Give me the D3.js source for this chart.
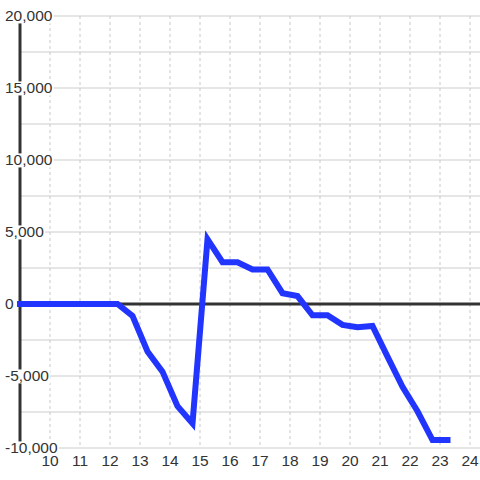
<!DOCTYPE html>
<html>
<head>
<meta charset="utf-8">
<script src="https://cdn.jsdelivr.net/npm/d3@7"></script>
<style>
  body { margin: 0; background: #fff; }
  text { font-family: "Liberation Sans", Arial, sans-serif; font-size: 15.5px; fill: #333; }
</style>
</head>
<body>
<script>
var xValues = [9, 9.25, 9.75, 10.25, 10.75, 11.25, 11.75, 12.25, 12.75, 13.25, 13.75, 14.25, 14.75,
    15.25, 15.75, 16.25, 16.75, 17.25, 17.75, 18.25, 18.75, 19.25, 19.75, 20.25, 20.75,
    21.25, 21.75, 22.25, 22.75, 23.25];
var yValues = [0, 0, 0, 0, 0, 0, 0, 0, -830, -3300, -4700, -7100, -8300,
    4500, 2900, 2900, 2400, 2400, 750, 550, -780, -780, -1450, -1620, -1530,
    -3650, -5750, -7450, -9450, -9450];
var xTicks = [10, 11, 12, 13, 14, 15, 16, 17, 18, 19, 20, 21, 22, 23, 24];
var yTicks = [-10000, -5000, 0, 5000, 10000, 15000, 20000];
var yGrid = [-10000, -7500, -5000, -2500, 0, 2500, 5000, 7500, 10000, 12500, 15000, 17500, 20000];

var svgWidth = 480;
var svgHeight = 480;

var svg = d3.select("body")
    .append("svg")
    .attr("width", svgWidth)
    .attr("height", svgHeight);

var x = d3.scaleLinear().domain([9, 24]).range([20, 470]);
var y = d3.scaleLinear().domain([-10000, 20000]).range([448, 16]);

// horizontal grid
svg.selectAll(".hgrid")
    .data(yGrid)
    .enter().append("line")
    .attr("x1", 20).attr("x2", 480)
    .attr("y1", d => y(d)).attr("y2", d => y(d))
    .attr("stroke", "#ccc").attr("stroke-width", 1);

// vertical dashed grid
svg.selectAll(".vgrid")
    .data(xTicks)
    .enter().append("line")
    .attr("x1", d => x(d)).attr("x2", d => x(d))
    .attr("y1", y(20000)).attr("y2", y(-10000))
    .attr("stroke", "#c8c8c8").attr("stroke-width", 1)
    .attr("stroke-dasharray", "3,3");

// y axis line
svg.append("line")
    .attr("x1", x(9)).attr("x2", x(9))
    .attr("y1", y(20000)).attr("y2", y(-10000))
    .attr("stroke", "#333").attr("stroke-width", 3);

// y labels, left aligned, with a background box over the axis
var fmt = d3.format(",");
var yLab = svg.selectAll(".ylab")
    .data(yTicks)
    .enter().append("g")
    .attr("transform", d => "translate(5," + y(d) + ")");

yLab.append("text")
    .attr("dy", "0.35em")
    .text(d => fmt(d).replace("−", "-"));

yLab.each(function() {
    var g = d3.select(this);
    var bb = g.select("text").node().getBBox();
    g.insert("rect", "text")
        .attr("x", bb.x).attr("y", bb.y + 2)
        .attr("width", bb.width + 1).attr("height", bb.height - 3)
        .attr("fill", "#fff");
});

// zero line
svg.append("line")
    .attr("x1", x(9)).attr("x2", 480)
    .attr("y1", y(0)).attr("y2", y(0))
    .attr("stroke", "#333").attr("stroke-width", 3);

// data line
var line = d3.line()
    .x((d, i) => x(xValues[i]))
    .y(d => y(d));

svg.append("path")
    .datum(yValues)
    .attr("d", line)
    .attr("fill", "none")
    .attr("stroke", "#2135ff")
    .attr("stroke-width", 6)
    .attr("stroke-linecap", "square");

// x labels
svg.selectAll(".xlab")
    .data(xTicks)
    .enter().append("text")
    .attr("x", d => x(d))
    .attr("y", 466)
    .attr("text-anchor", "middle")
    .text(d => d);
</script>
</body>
</html>
